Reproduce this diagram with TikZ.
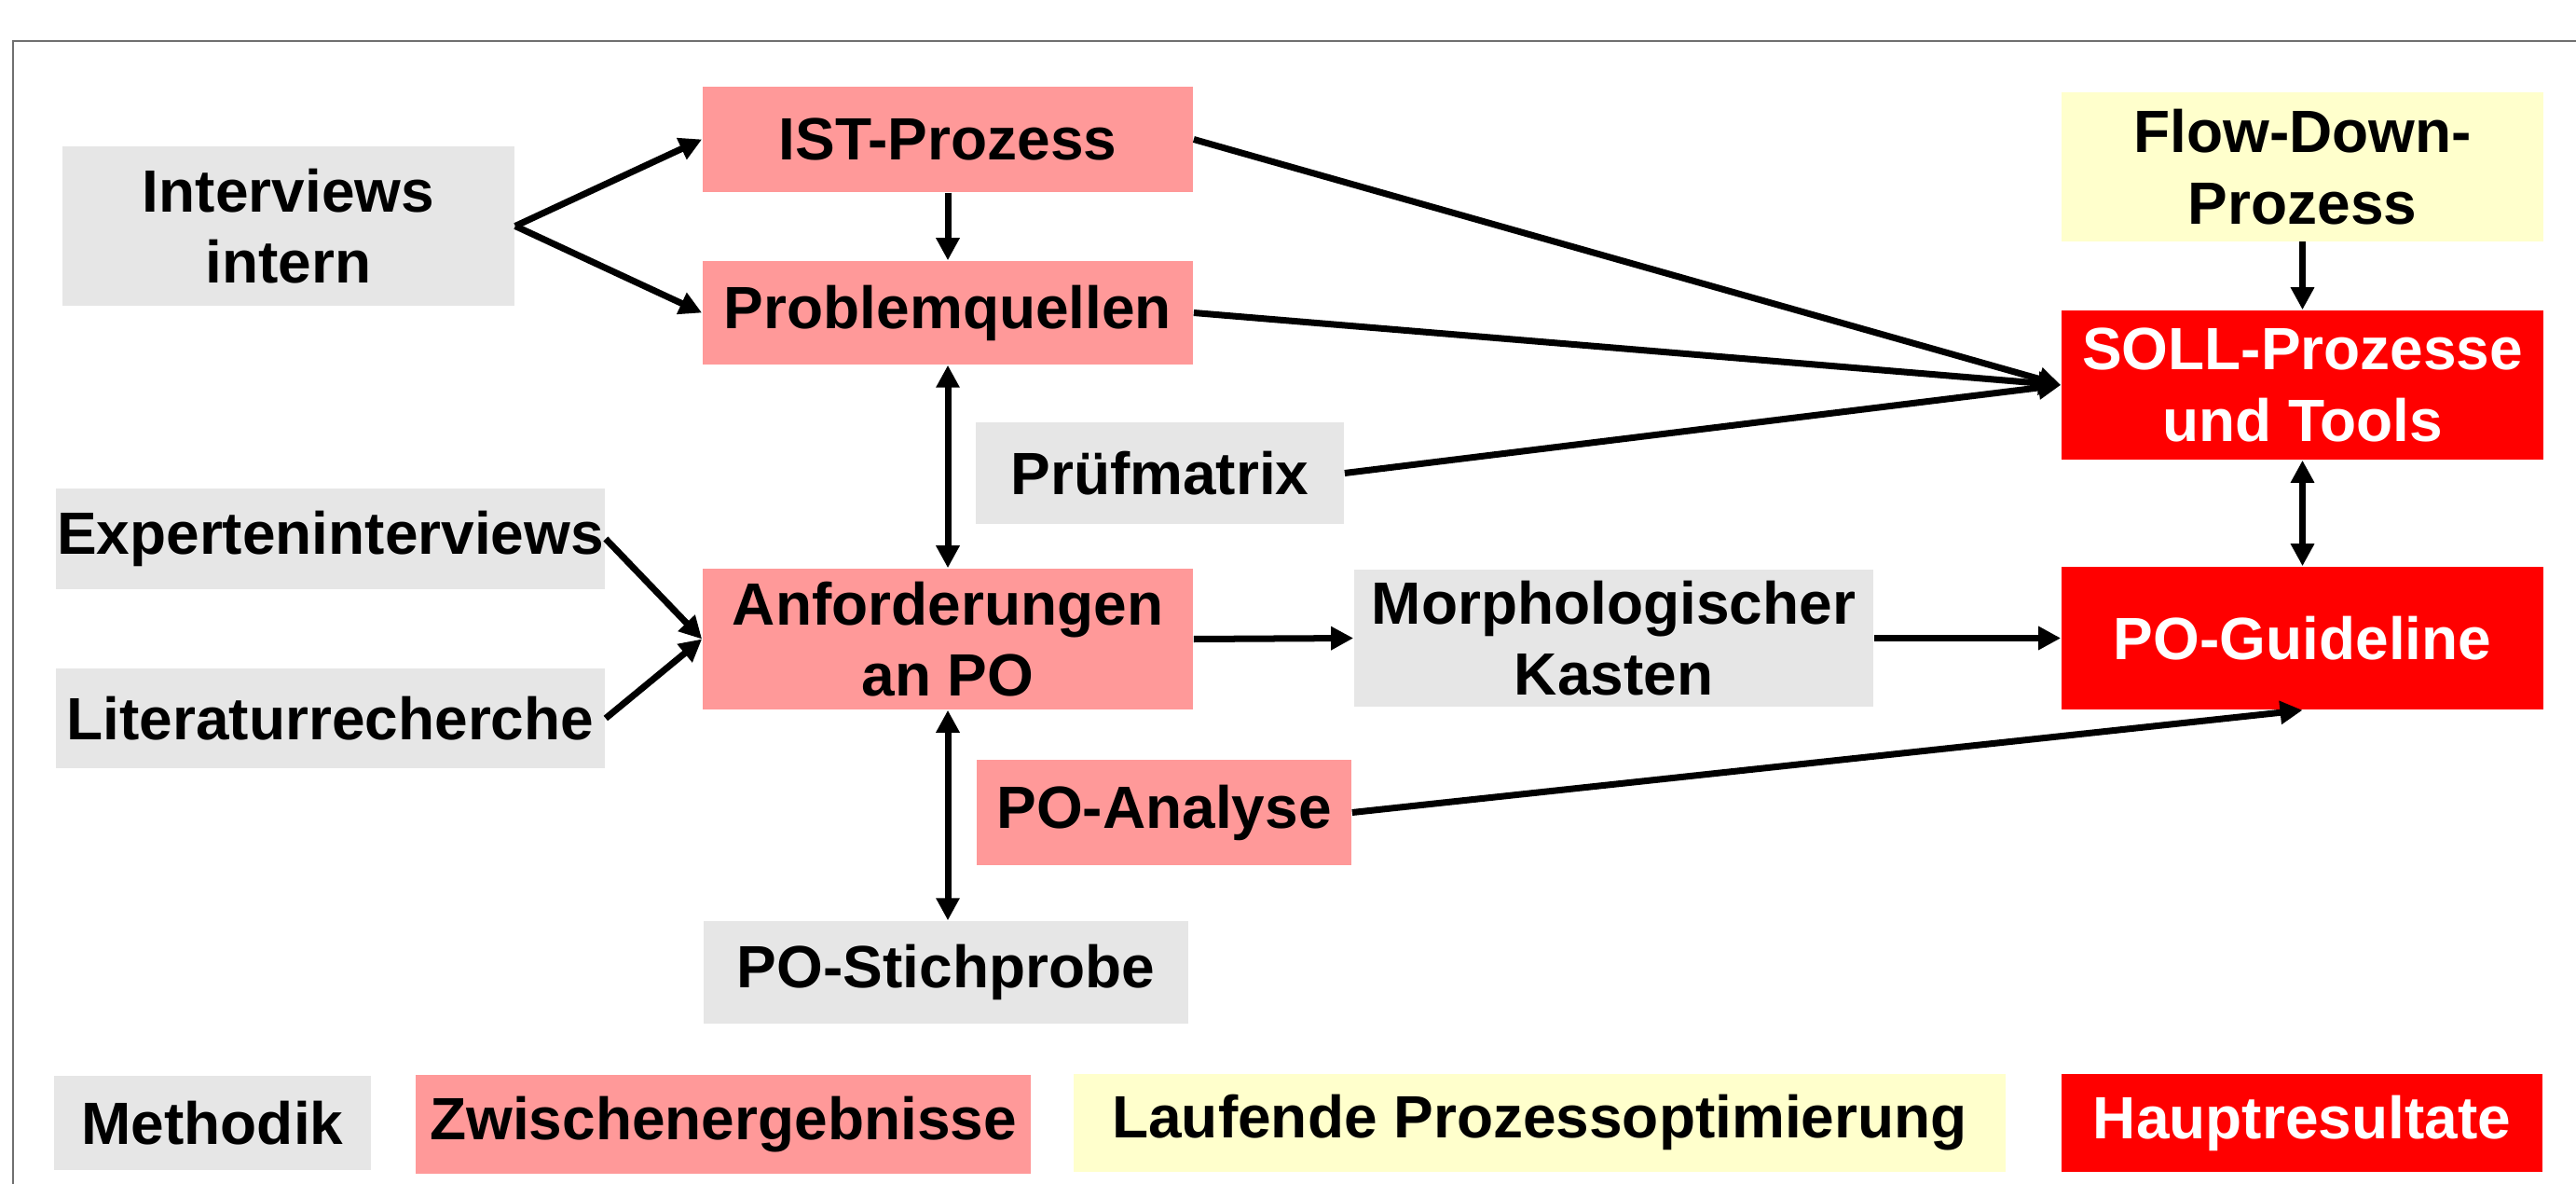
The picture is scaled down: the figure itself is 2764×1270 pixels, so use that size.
\documentclass[tikz,border=0pt]{standalone}
\usepackage{fontspec}
\setmainfont{Liberation Sans}
\usetikzlibrary{arrows.meta}
\definecolor{methgray}{RGB}{230,230,230}
\definecolor{zwpink}{RGB}{255,153,153}
\definecolor{laufyellow}{RGB}{255,255,204}
\definecolor{hauptred}{RGB}{255,0,0}
\definecolor{framegray}{RGB}{112,112,112}
\tikzset{
  box/.style={rectangle, inner sep=0pt, align=center, text=black,
    font=\bfseries\fontsize{18.2}{21.8}\selectfont},
  meth/.style={box, fill=methgray},
  zw/.style={box, fill=zwpink},
  lauf/.style={box, fill=laufyellow},
  haupt/.style={box, fill=hauptred, text=white},
  conn/.style={line width=0.07cm, -{Triangle[length=0.24cm,width=0.24cm]}},
  dconn/.style={line width=0.07cm, {Triangle[length=0.24cm,width=0.24cm]}-{Triangle[length=0.24cm,width=0.24cm]}}
}
\begin{document}
\begin{tikzpicture}[x=0.01cm, y=-0.01cm]
\useasboundingbox (0,0) rectangle (2764,1270);
\fill[white] (0,0) rectangle (2764,1270);
\draw[framegray, line width=0.02cm] (14,1275) -- (14,44) -- (2770,44);

% nodes
\node[meth, minimum width=4.85cm, minimum height=1.71cm] (intv) at (309.5,242.5) {Interviews\\intern};
\node[zw, minimum width=5.26cm, minimum height=1.13cm] (ist) at (1017,149.5) {IST-Prozess};
\node[zw, minimum width=5.26cm, minimum height=1.11cm] (pq) at (1017,335.5) {Problemquellen};
\node[meth, minimum width=3.95cm, minimum height=1.09cm] (pruef) at (1244.5,507.5) {Prüfmatrix};
\node[meth, minimum width=5.89cm, minimum height=1.08cm] (exp) at (354.5,578) {Experteninterviews};
\node[meth, minimum width=5.89cm, minimum height=1.07cm] (lit) at (354.5,770.5) {Literaturrecherche};
\node[zw, minimum width=5.26cm, minimum height=1.51cm] (anf) at (1017,685.5) {Anforderungen\\an PO};
\node[meth, minimum width=5.57cm, minimum height=1.47cm] (morph) at (1731.5,684.5) {Morphologischer\\Kasten};
\node[zw, minimum width=4.02cm, minimum height=1.13cm] (poa) at (1249,871.5) {PO-Analyse};
\node[meth, minimum width=5.20cm, minimum height=1.10cm] (pos) at (1015,1043) {PO-Stichprobe};
\node[lauf, minimum width=5.17cm, minimum height=1.59cm] (flow) at (2470.5,179) {Flow-Down-\\Prozess};
\node[haupt, minimum width=5.17cm, minimum height=1.60cm] (soll) at (2470.5,413) {SOLL-Prozesse\\und Tools};
\node[haupt, minimum width=5.17cm, minimum height=1.53cm] (guide) at (2470.5,684.5) {PO-Guideline};

% legend
\node[meth, minimum width=3.40cm, minimum height=1.01cm] (lmeth) at (228,1204.5) {Methodik};
\node[zw, minimum width=6.60cm, minimum height=1.06cm] (lzw) at (776,1206) {Zwischenergebnisse};
\node[lauf, minimum width=10.00cm, minimum height=1.05cm] (llauf) at (1652,1204.5) {Laufende Prozessoptimierung};
\node[haupt, minimum width=5.16cm, minimum height=1.05cm] (lhaupt) at (2470,1204.5) {Hauptresultate};

% connectors
\draw[conn] (intv.east) -- (ist.west);
\draw[conn] (intv.east) -- (pq.west);
\draw[conn] (ist.south) -- (pq.north);
\draw[dconn] (pq.south) -- (anf.north);
\draw[dconn] (anf.south) -- (anf.south |- pos.north);
\draw[conn] (exp.east) -- (anf.west);
\draw[conn] (lit.east) -- (anf.west);
\draw[conn] (anf.east) -- (morph.west);
\draw[conn] (morph.east) -- (guide.west);
\draw[conn] (poa.east) -- (guide.south);
\draw[conn] (ist.east) -- (soll.west);
\draw[conn] (pq.east) -- (soll.west);
\draw[conn] (pruef.east) -- (soll.west);
\draw[conn] (flow.south) -- (soll.north);
\draw[dconn] (soll.south) -- (guide.north);
\end{tikzpicture}
\end{document}
